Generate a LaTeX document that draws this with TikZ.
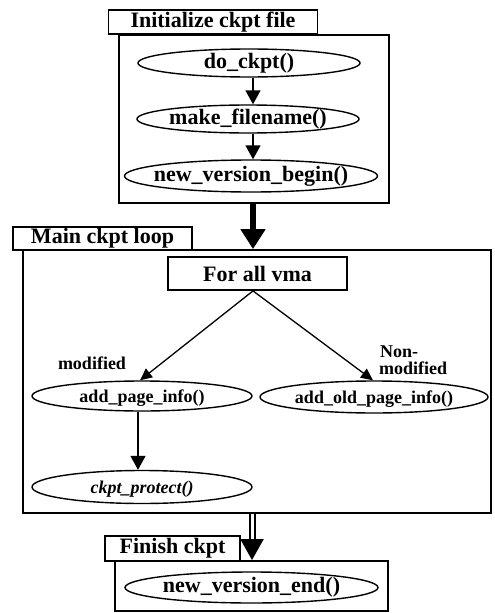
\documentclass[tikz,border=0pt]{standalone}
\usepackage{fontspec}
\setmainfont{Liberation Serif}
\usetikzlibrary{shapes.geometric,arrows.meta}
\begin{document}
\begin{tikzpicture}[x=1pt,y=-1pt,
  frame/.style={draw,line width=1.8pt,rectangle,inner sep=0pt},
  bigfont/.style={font=\bfseries\fontsize{22}{22}\selectfont},
  smallfont/.style={font=\bfseries\fontsize{18}{18}\selectfont},
  lbl/.style={frame,bigfont},
  fn/.style={draw,line width=1.4pt,ellipse,inner sep=0pt,bigfont,text height=10pt,text depth=0pt},
  fnsmall/.style={draw,line width=1.4pt,ellipse,inner sep=0pt,smallfont,text height=13pt,text depth=0pt},
  note/.style={font=\bfseries\fontsize{18}{18}\selectfont,inner sep=0pt},
  thin/.style={line width=1.4pt,-{Triangle[length=14pt,width=15pt]}},
  diag/.style={line width=1.3pt,-{Triangle[length=12pt,width=11pt]}},
  thick/.style={line width=5.5pt,-{Triangle[length=20pt,width=24pt]}}
]
\useasboundingbox (0,0) rectangle (495,613);
% Init section
\node[frame,minimum width=270pt,minimum height=168pt] (initbox) at (254,119) {};
\node[lbl,minimum width=209pt,minimum height=24pt] (initlbl) at (213,22) {Initialize ckpt file};
\node[fn,minimum width=222pt,minimum height=28pt] (doc) at (249,63) {\makebox[0pt]{do\_ckpt()}};
\node[fn,minimum width=222pt,minimum height=28pt] (mkf) at (248,119) {\makebox[0pt]{make\_filename()}};
\node[fn,minimum width=253pt,minimum height=32pt] (nvb) at (251,176) {\makebox[0pt]{new\_version\_begin()}};
\draw[thin] (doc.south -| 253,0) -- (mkf.north -| 253,0);
\draw[thin] (mkf.south -| 253,0) -- (nvb.north -| 253,0);
% Main loop
\node[frame,minimum width=468pt,minimum height=263pt] (mainbox) at (257,381.5) {};
\node[lbl,minimum width=179pt,minimum height=23pt] (mainlbl) at (102.5,238.5) {Main ckpt loop};
\draw[thick] (initbox.south -| 253,0) -- (mainbox.north -| 253,0);
\node[frame,bigfont,minimum width=179pt,minimum height=33pt] (vma) at (257.5,273.5) {For all vma};
\node[fnsmall,minimum width=220pt,minimum height=30pt] (api) at (142,396) {\makebox[0pt]{add\_page\_info()}};
\node[fnsmall,minimum width=228pt,minimum height=32pt] (aopi) at (374,397) {\makebox[0pt]{add\_old\_page\_info()}};
\node[fnsmall,minimum width=220pt,minimum height=33pt,font=\bfseries\itshape\fontsize{18}{18}\selectfont] (cp) at (142,487) {\makebox[0pt]{ckpt\_protect()}};
\draw[diag] (vma.south -| 253,0) -- (api.north -| 140,0);
\draw[diag] (vma.south -| 253,0) -- (aopi.north -| 373,0);
\draw[thin] (api.south -| 138,0) -- (cp.north -| 138,0);
\node[note,anchor=center] (modl) at (92,363) {modified};
\node[note,anchor=base west] (nonl) at (380,357) {Non-};
\node[note,anchor=base west] (nonl2) at (379,374) {modified};
% Finish
\node[frame,minimum width=273pt,minimum height=50pt] (finbox) at (251.5,586) {};
\node[lbl,minimum width=135pt,minimum height=25pt] (finlbl) at (172.5,548.5) {Finish ckpt};
\node[fn,minimum width=253pt,minimum height=31pt] (nve) at (251.5,587.5) {\makebox[0pt]{new\_version\_end()}};
\draw[line width=2pt,double distance=3pt,-{Triangle[length=21pt,width=23pt]}] (mainbox.south -| 252,0) -- (finbox.north -| 252,0);
\end{tikzpicture}
\end{document}
